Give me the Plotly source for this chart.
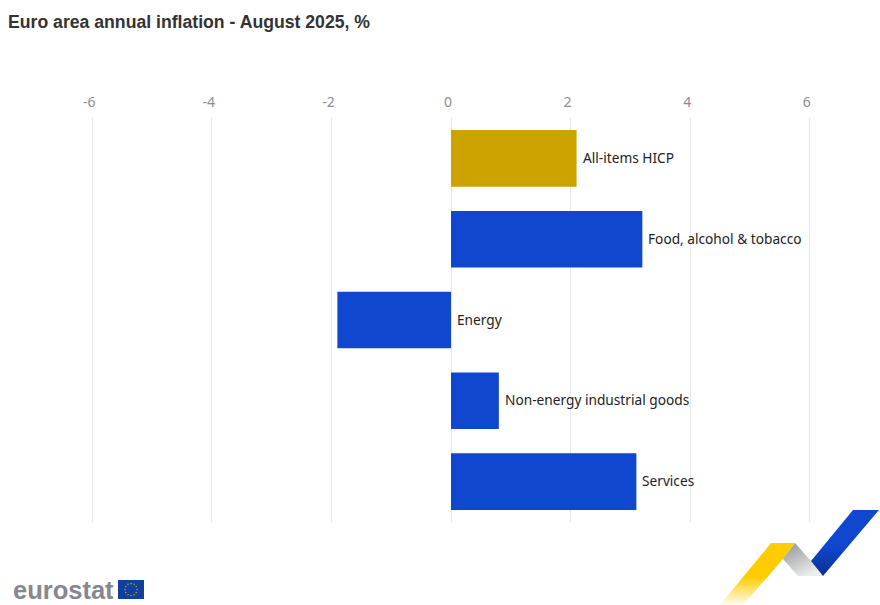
import base64
import plotly.graph_objects as go

categories = ["All-items HICP", "Food, alcohol & tobacco", "Energy", "Non-energy industrial goods", "Services"]
values = [2.1, 3.2, -1.9, 0.8, 3.1]
bar_colors = ["#cca300", "#0f47cf", "#0f47cf", "#0f47cf", "#0f47cf"]
tick_values = [-6, -4, -2, 0, 2, 4, 6]

WIDTH, HEIGHT = 880, 605
LEFT, RIGHT, TOP, BOTTOM = 60, 0, 118, 83
PX_PER_UNIT = 59.8


def svg_uri(svg):
    return "data:image/svg+xml;base64," + base64.b64encode(svg.encode()).decode()


def paper_x(px):
    return (px - LEFT) / (WIDTH - LEFT - RIGHT)


def paper_y(py):
    return (HEIGHT - BOTTOM - py) / (HEIGHT - TOP - BOTTOM)


ribbon_svg = """<svg xmlns="http://www.w3.org/2000/svg" width="160" height="100" viewBox="720 505 160 100">
<defs>
<linearGradient id="y" x1="0" y1="0" x2="0" y2="1"><stop offset="0.55" stop-color="#ffcc00"/><stop offset="1" stop-color="#ffcc00" stop-opacity="0.05"/></linearGradient>
<linearGradient id="g" x1="0" y1="0" x2="0.6" y2="1"><stop offset="0" stop-color="#8f9193"/><stop offset="1" stop-color="#eceded"/></linearGradient>
<linearGradient id="b" x1="0" y1="1" x2="0" y2="0"><stop offset="0" stop-color="#0a2f8f"/><stop offset="0.45" stop-color="#0f47cf"/></linearGradient>
</defs>
<polygon fill="url(#y)" points="771,543 795,543 783,559 743,605 720,605"/>
<polygon fill="url(#g)" points="795,543 811,561 823,576 798,576 783,559"/>
<polygon fill="url(#b)" points="853,510 879,510 823,576 811,561"/>
</svg>"""

stars = "".join(
    f'<circle cx="{cx}" cy="{cy}" r="0.7" fill="#d9b400"/>'
    for cx, cy in [(13, 3.5), (16, 4.3), (18.2, 6.5), (19, 9.5), (18.2, 12.5), (16, 14.7),
                   (13, 15.5), (10, 14.7), (7.8, 12.5), (7, 9.5), (7.8, 6.5), (10, 4.3)]
)
flag_svg = f"""<svg xmlns="http://www.w3.org/2000/svg" width="26" height="19" viewBox="0 0 26 19">
<rect width="26" height="19" fill="#0f3f9f"/>{stars}</svg>"""

fig = go.Figure(
    go.Bar(
        x=values,
        y=categories,
        orientation="h",
        marker=dict(color=bar_colors, line=dict(width=0)),
        hoverinfo="x+y",
    )
)

for cat, val in zip(categories, values):
    fig.add_annotation(
        x=max(val, 0),
        y=cat,
        text=cat,
        showarrow=False,
        xanchor="left",
        xshift=4,
        yshift=1,
        font=dict(family="Noto Sans", size=13.7, color="#222222"),
    )

fig.add_annotation(
    xref="paper", yref="paper", x=paper_x(13), y=paper_y(590),
    text="<b>eurostat</b>", showarrow=False, xanchor="left", yanchor="middle", xshift=-2,
    font=dict(family="Liberation Sans", size=25.5, color="#85888e"),
)

fig.add_layout_image(
    source=svg_uri(ribbon_svg), xref="paper", yref="paper",
    x=paper_x(720), y=paper_y(505), sizex=160 / (WIDTH - LEFT - RIGHT), sizey=100 / (HEIGHT - TOP - BOTTOM),
    xanchor="left", yanchor="top", sizing="stretch", layer="above",
)
fig.add_layout_image(
    source=svg_uri(flag_svg), xref="paper", yref="paper",
    x=paper_x(118), y=paper_y(580), sizex=26 / (WIDTH - LEFT - RIGHT), sizey=19 / (HEIGHT - TOP - BOTTOM),
    xanchor="left", yanchor="top", sizing="stretch", layer="above",
)

fig.update_layout(
    width=WIDTH,
    height=HEIGHT,
    margin=dict(l=LEFT, r=RIGHT, t=TOP, b=BOTTOM),
    paper_bgcolor="white",
    plot_bgcolor="white",
    showlegend=False,
    bargap=0.3,
    title=dict(
        text="<b>Euro area annual inflation - August 2025, %</b>",
        x=8 / WIDTH, xanchor="left", y=1 - 22 / HEIGHT, yanchor="middle",
        font=dict(family="Liberation Sans", size=17.65, color="#333333"),
    ),
    xaxis=dict(
        side="top",
        range=[-(451 - LEFT) / PX_PER_UNIT, (WIDTH - 451) / PX_PER_UNIT],
        tickmode="array",
        tickvals=tick_values,
        ticktext=[str(t) for t in tick_values],
        showgrid=True,
        gridcolor="#e3e7f5",
        gridwidth=1,
        zeroline=True,
        zerolinecolor="#e3e7f5",
        zerolinewidth=1,
        showline=False,
        ticks="",
        ticklabelshift=-3,
        ticklabelstandoff=7,
        tickfont=dict(family="Noto Sans", size=14, color="#8a8d94"),
    ),
    yaxis=dict(
        autorange="reversed",
        showticklabels=False,
        showgrid=False,
        zeroline=False,
        showline=False,
        ticks="",
    ),
)

# page body has a default margin, chart should sit flush in the window
fig.write_html(
    "out.html",
    config={"displayModeBar": False},
    post_script="document.body.style.margin = '0';",
)
